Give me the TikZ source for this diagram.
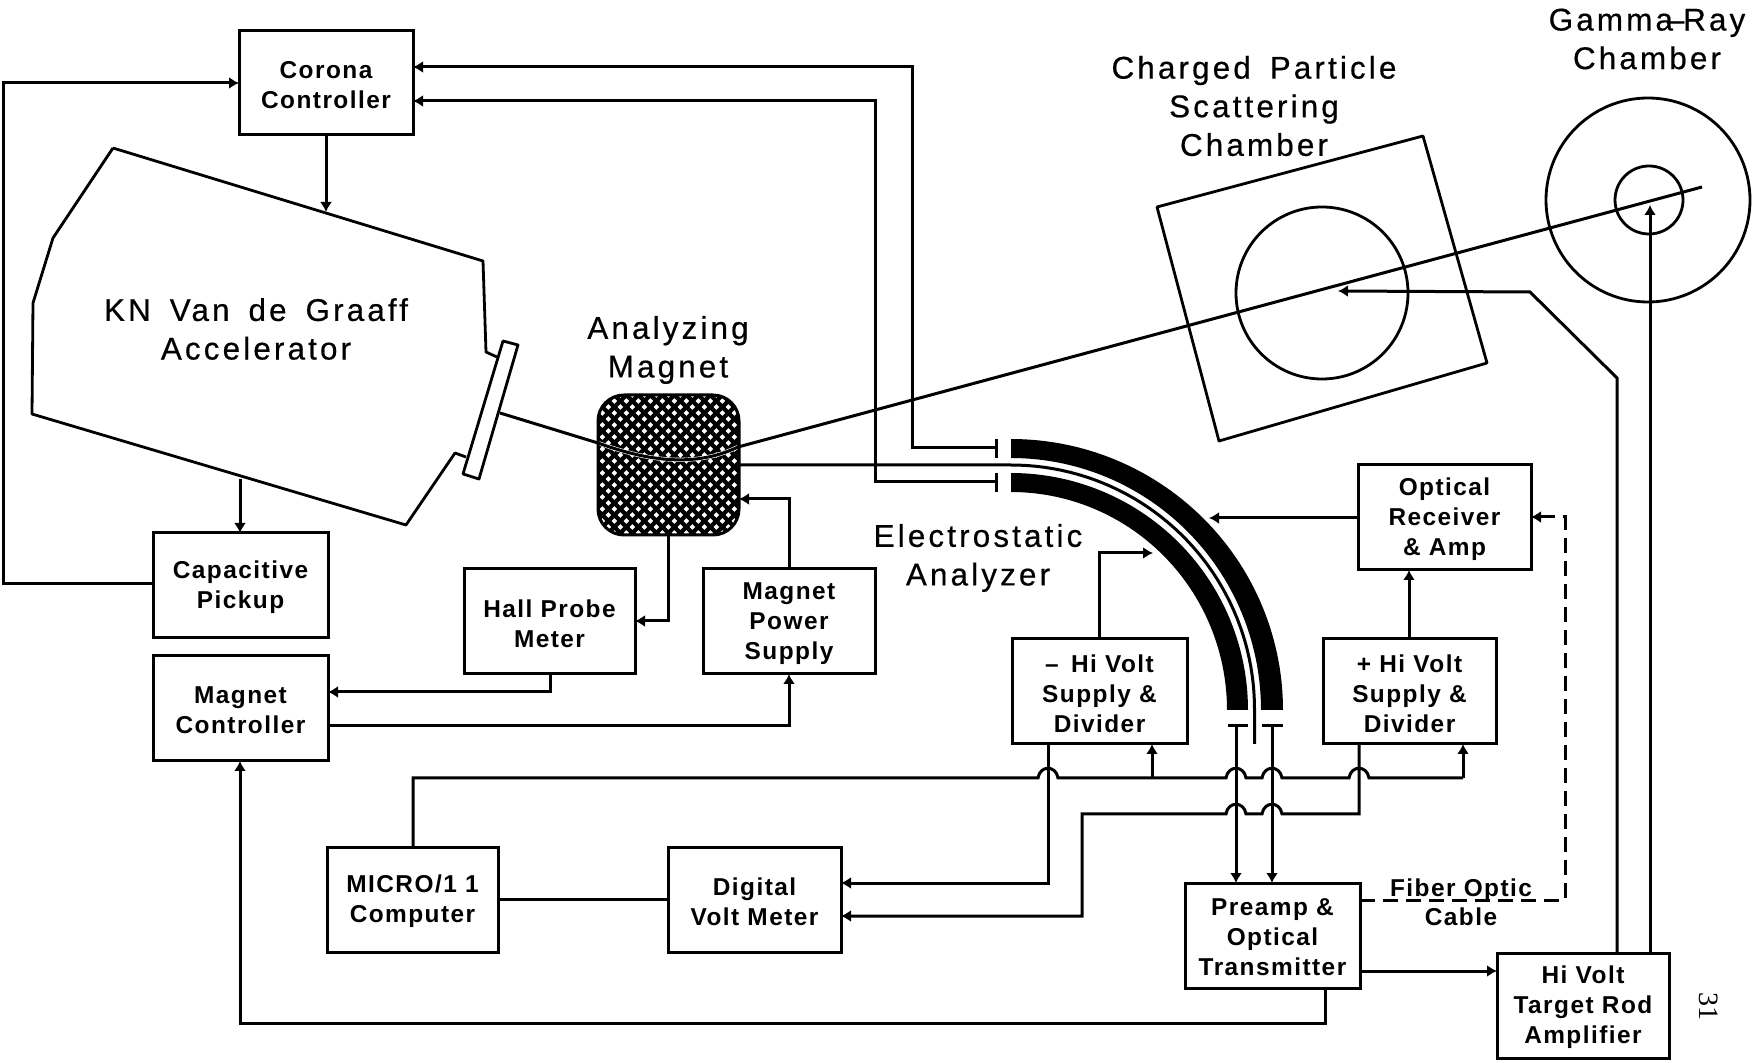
\documentclass[tikz,border=0pt]{standalone}
\usepackage{fontspec}
\setmainfont{Liberation Sans}
\newfontfamily\blockfont[LetterSpace=6]{Liberation Sans Bold}
\newfontfamily\titlefont[LetterSpace=10,WordSpace=1.6,FakeBold=0.5]{Liberation Sans}
\newfontfamily\pagefont{Liberation Serif}
\usetikzlibrary{arrows.meta,calc}
\newcommand{\hop}[2]{-- ({#1-10},#2) .. controls ({#1-8},{#2-13}) and ({#1+8},{#2-13}) .. ({#1+10},#2)}
\newcommand{\blockat}[6]{\node[blockbox,minimum width={(#4-#2)*0.5pt},minimum height={(#5-#3)*0.5pt},label={[blocktext]center:{#6}}] (#1) at ({(#2+#4)/2},{(#3+#5)/2}) {};}
\tikzset{
  blockbox/.style={draw,line width=1.5pt,inner sep=0pt,outer sep=0pt},
  blocktext/.style={inner sep=0pt,outer sep=0pt,yshift=-1pt,align=center,font=\blockfont\fontsize{12.2}{15}\selectfont},
  titlelabel/.style={inner sep=0pt,align=center,font=\titlefont\fontsize{15.7}{19.3}\selectfont},
  wire/.style={line width=1.5pt,line join=miter},
  tipped/.style={wire,-{Latex[length=5pt,width=6pt]}},
  rtipped/.style={wire,{Latex[length=5pt,width=6pt]}-},
  thin outline/.style={line width=1.4pt,line join=round}
}
\begin{document}
\begin{tikzpicture}[x=0.5pt,y=-0.5pt]
\useasboundingbox (0,0) rectangle (1752,1063);
% blocks
\blockat{corona}{239}{31}{413}{135}{Corona\\Controller}
\blockat{pickup}{153}{533}{328}{638}{Capacitive\\Pickup}
\blockat{mctrl}{153}{656}{328}{761}{Magnet\\Controller}
\blockat{hall}{464}{569}{635}{674}{Hall Probe\\Meter}
\blockat{mps}{703}{569}{875}{674}{Magnet\\Power\\Supply}
\blockat{hvm}{1012}{639}{1187}{744}{– \,Hi Volt\\Supply \&\\Divider}
\blockat{hvp}{1323}{639}{1496}{744}{+ Hi Volt\\Supply \&\\Divider}
\blockat{orx}{1358}{465}{1531}{570}{Optical\\Receiver\\\& Amp}
\blockat{micro}{327}{847}{498}{952}{MICRO/1 1\\Computer}
\blockat{dvm}{668}{847}{841}{952}{Digital\\Volt Meter}
\blockat{preamp}{1185}{883}{1360}{988}{Preamp \&\\Optical\\Transmitter}
\blockat{rod}{1497}{953}{1669}{1058}{Hi Volt\\Target Rod\\Amplifier}
% magnet hatch
\begin{scope}
\clip[rounded corners=13pt] (598,395) rectangle (739,535);
\foreach \k in {-17,...,10}{
  \draw[line width=2.15pt] ({243.3+\k*12+385},385) -- ({243.3+\k*12+545},545);
}
\foreach \k in {-6,...,20}{
  \draw[line width=2.15pt] ({1045.3+\k*12-385},385) -- ({1045.3+\k*12-545},545);
}
\draw[white,line width=2.1pt] (598,443) .. controls (640,458) and (690,470) .. (738,447);
\end{scope}
\node[draw,line width=1.5pt,inner sep=0pt,outer sep=0pt,rounded corners=13pt,minimum width=70.5pt,minimum height=70pt] (magnet) at (668.5,465) {};
% accelerator
\draw[thin outline] (113,148) -- (483,261) -- (486,352) -- (497,357);
\draw[thin outline] (466,457) -- (455,453) -- (406,525) -- (32,414) -- (33,303) -- (53,238) -- (113,148);
\draw[thin outline] (503,341) -- (518,345) -- (479,479) -- (463,474) -- cycle;
\coordinate (acctop) at (326,212);
\coordinate (accbot) at (240,479);
\coordinate (platebeam) at (500,413);
% beams
\draw[wire] (platebeam) -- (598,443) .. controls (640,458) and (690,470) .. (738,447) -- (1702,187);
\draw[wire] (magnet.east |- 0,465) -- (1011,465) plot[domain=90:0,samples=46] ({1011+243.5*cos(\x)},{709-244*sin(\x)}) -- (1254.5,744);
% analyzer plates
\fill (1011,439) plot[domain=90:0,samples=61] ({1011+272*cos(\x)},{710-271*sin(\x)}) -- plot[domain=0:90,samples=61] ({1011+250*cos(\x)},{710-252*sin(\x)}) -- cycle;
\fill (1011,473) plot[domain=90:0,samples=61] ({1011+237*cos(\x)},{710-237*sin(\x)}) -- plot[domain=0:90,samples=61] ({1011+216*cos(\x)},{710-218*sin(\x)}) -- cycle;
\coordinate (capa) at (996,448);
\coordinate (capb) at (996,482);
\coordinate (capc) at (1236,726);
\coordinate (capd) at (1272,726);
\draw[wire] (996,439) -- (996,458);
\draw[wire] (996,473) -- (996,492);
\draw[wire] (1228,726) -- (1248,726);
\draw[wire] (1262,726) -- (1283,726);
% chambers
\draw[thin outline] (1157,207) -- (1423,136) -- (1487,363) -- (1219,441) -- cycle;
\node[draw,thin outline,circle,inner sep=0pt,outer sep=0pt,minimum size=86pt] (scat) at (1322,293) {};
\node[draw,thin outline,circle,inner sep=0pt,outer sep=0pt,minimum size=102pt] (gamma) at (1648,200) {};
\node[draw,thin outline,circle,inner sep=0pt,outer sep=0pt,minimum size=34pt] (gammain) at (1649,200) {};
% connectors
\draw[tipped] (corona.south -| 326,0) -- (acctop);
\draw[tipped] (accbot) -- (pickup.north -| accbot);
\draw[tipped] (pickup.west |- 0,584) -- (3,584) -- (3,83) -- (corona.west |- 0,83);
\draw[tipped] (capa) -- (912,448) -- (912,67) -- (corona.east |- 0,67);
\draw[tipped] (capb) -- (875,482) -- (875,101) -- (corona.east |- 0,101);
\draw[tipped] (magnet.south -| 668,0) -- (668,621) -- (hall.east |- 0,621);
\draw[tipped] (mps.north) -- (mps.north |- 0,499) -- (magnet.east |- 0,499);
\draw[tipped] (hall.south -| 550,0) -- (550,692) -- (mctrl.east |- 0,692);
\draw[tipped] (mctrl.east |- 0,726) -- (789,726) -- (mps.south);
\draw[tipped] (preamp.south -| 1325,0) -- (1325,1023) -- (240,1023) -- (mctrl.south -| 240,0);
\draw[wire] (micro.east |- 0,899) -- (dvm.west |- 0,899);
\draw[wire] (micro.north -| 413,0) -- (413,778) \hop{1048}{778} \hop{1236}{778} \hop{1272}{778} \hop{1359}{778} -- (1463,778);
\draw[tipped] (1463,778) -- (hvp.south -| 1463,0);
\draw[tipped] (1152,778) -- (hvm.south -| 1152,0);
\draw[tipped] (hvm.south -| 1048,0) -- (1048,883) -- (dvm.east |- 0,883);
\draw[rtipped] (dvm.east |- 0,916) -- (1082,916) -- (1082,814) \hop{1236}{814} \hop{1272}{814} -- (1359,814) -- (hvp.south -| 1359,0);
\draw[tipped] (capc) -- (preamp.north -| capc);
\draw[tipped] (capd) -- (preamp.north -| capd);
\draw[tipped] (hvm.north -| 1099,0) -- (1099,553) -- (1153,553);
\draw[tipped] (hvp.north -| 1409,0) -- (orx.south -| 1409,0);
\draw[tipped] (orx.west |- 0,518) -- (1209,518);
\draw[tipped,dash pattern=on 7.5pt off 4pt] (preamp.east |- 0,900) -- (1565,900) -- (1565,517) -- (orx.east |- 0,517);
\draw[tipped] (preamp.east |- 0,971) -- (rod.west |- 0,971);
\draw[tipped] (rod.north -| 1617,0) -- (1617,378) -- (1530,292) -- (1338,291);
\draw[tipped] (rod.north -| 1650,0) -- (1650,205);
% titles
\node[titlelabel] (tgamma) at (1647,39) {Gamma\kern-3pt–\kern-0.6pt Ray\\Chamber};
\node[titlelabel] (tscat) at (1254,106) {Charged Particle\\Scattering\\Chamber};
\node[titlelabel] (tkn) at (256,329) {KN Van de Graaff\\Accelerator};
\node[titlelabel] (tmag) at (668,350) {Analyzing\\Magnet};
\node[titlelabel] (tesa) at (978,558) {Electrostatic\\Analyzer};
\node[inner sep=0pt,align=center,font=\blockfont\fontsize{12.2}{14.5}\selectfont] (tfiber) at (1461,902) {Fiber Optic\\Cable};
\node[rotate=-90,inner sep=0pt,font=\pagefont\fontsize{14}{16}\selectfont] (pg) at (1709,1006) {31};
\end{tikzpicture}
\end{document}
